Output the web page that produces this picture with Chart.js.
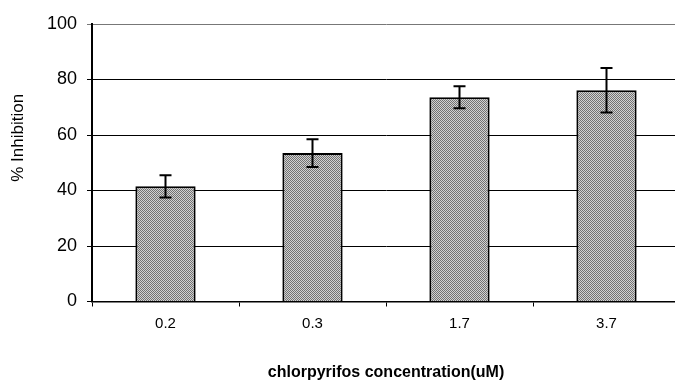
<!DOCTYPE html>
<html>
<head>
<meta charset="utf-8">
<script src="https://cdn.jsdelivr.net/npm/chart.js@4/dist/chart.umd.min.js"></script>
<style>
  html, body { margin: 0; padding: 0; background: #fff; overflow: hidden; width: 675px; height: 382px; }
  #wrap { position: relative; width: 690px; height: 382px; }
</style>
</head>
<body>
<div id="wrap"><canvas id="c"></canvas></div>
<script>
const categories = ["0.2", "0.3", "1.7", "3.7"];
const inhibition = [41.5, 53.5, 73.6, 76.1];
const errors = [4.0, 5.0, 4.0, 8.0];
const yTicks = [0, 20, 40, 60, 80, 100];
const yTitle = "% Inhibition";
const xTitle = "chlorpyrifos concentration(uM)";

// halftone-like fill pattern
const pc = document.createElement('canvas');
pc.width = 4; pc.height = 4;
const pctx = pc.getContext('2d');
for (let y = 0; y < 4; y++) {
  for (let x = 0; x < 4; x++) {
    pctx.fillStyle = ((x + y) % 2 === 0) ? '#727272' : '#d2d2d2';
    pctx.fillRect(x, y, 1, 1);
  }
}
const ctx = document.getElementById('c').getContext('2d');
const pattern = ctx.createPattern(pc, 'repeat');

const FONT = "Arial, 'Liberation Sans', sans-serif";

const errorBars = {
  id: 'errorBars',
  afterDatasetsDraw(chart) {
    const meta = chart.getDatasetMeta(0);
    const ys = chart.scales.y;
    const c = chart.ctx;
    c.save();
    c.strokeStyle = '#000';
    c.lineWidth = 2;
    meta.data.forEach((bar, i) => {
      const v = inhibition[i], e = errors[i];
      const top = ys.getPixelForValue(v + e);
      const bot = ys.getPixelForValue(v - e);
      const x = bar.x;
      c.beginPath();
      c.moveTo(x, top); c.lineTo(x, bot);
      c.moveTo(x - 6, top); c.lineTo(x + 6, top);
      c.moveTo(x - 6, bot); c.lineTo(x + 6, bot);
      c.stroke();
    });
    c.restore();
  }
};

const yTitlePlugin = {
  id: 'yTitlePlugin',
  afterDraw(chart) {
    const c = chart.ctx;
    const ys = chart.scales.y;
    c.save();
    c.font = "17px " + FONT;
    c.fillStyle = '#000';
    c.textAlign = 'center';
    c.textBaseline = 'middle';
    c.translate(ys.left + 16.5, ys.getPixelForValue(59));
    c.rotate(-Math.PI / 2);
    c.fillText(yTitle, 0, 0);
    c.restore();
  }
};

new Chart(ctx, {
  type: 'bar',
  data: {
    labels: categories,
    datasets: [{
      data: inhibition,
      backgroundColor: pattern,
      borderColor: '#000',
      borderWidth: 2,
      categoryPercentage: 1.0,
      barPercentage: 0.41
    }]
  },
  options: {
    responsive: true,
    maintainAspectRatio: false,
    animation: false,
    layout: { padding: { top: 24, right: 10, bottom: 0, left: 2 } },
    plugins: { legend: { display: false }, tooltip: { enabled: false } },
    scales: {
      x: {
        grid: { drawOnChartArea: false, drawTicks: true, tickLength: 5, color: '#000', lineWidth: 1 },
        border: { color: '#000', width: 1.5 },
        ticks: { color: '#000', font: { family: FONT, size: 15 }, padding: 8 },
        title: {
          display: true,
          text: xTitle,
          color: '#000',
          font: { family: FONT, size: 16, weight: 'bold' },
          padding: { top: 30, bottom: 0 }
        },
        afterFit(scale) { scale.height = 80.5; }
      },
      y: {
        min: 0, max: 100,
        afterBuildTicks(scale) { scale.ticks = yTicks.map(v => ({ value: v })); },
        afterFit(scale) { scale.width = 90; },
        grid: {
          color: (c) => (c.tick && c.tick.value === 100) ? '#777' : '#000',
          lineWidth: 1, tickLength: 5, drawTicks: true
        },
        border: { color: '#000', width: 2 },
        ticks: { color: '#000', font: { family: FONT, size: 18 }, padding: 10 },
        title: { display: false }
      }
    }
  },
  plugins: [errorBars, yTitlePlugin]
});
</script>
</body>
</html>
